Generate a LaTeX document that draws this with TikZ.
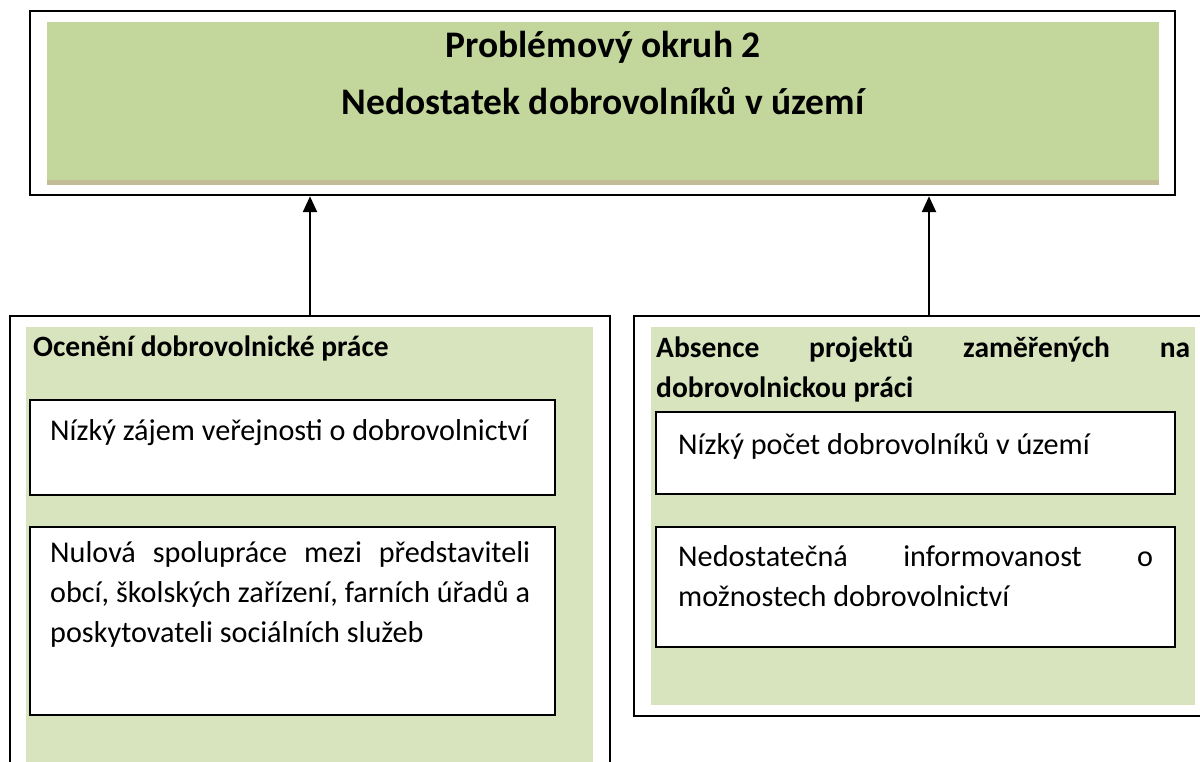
\documentclass[tikz,border=0pt]{standalone}
\usepackage{fontspec}
\setmainfont{Carlito}
\usetikzlibrary{arrows.meta}
\definecolor{titlegreen}{HTML}{C3D69B}
\definecolor{titletan}{HTML}{C4BC96}
\definecolor{panelgreen}{HTML}{D7E4BD}
\tikzset{>={Triangle[width=14pt,length=16pt]}}
\hyphenpenalty=10000

\begin{document}
\begin{tikzpicture}[x=1pt,y=-1pt,
    frame/.style={draw, line width=2pt, inner sep=0pt},
    itembox/.style={draw, fill=white, line width=2pt, inner sep=0pt},
    bodytext/.style={anchor=base west, inner sep=0pt, align=justify,
      font=\fontsize{30.2}{40}\selectfont},
    headtext/.style={bodytext, font=\bfseries\fontsize{29.5}{40}\selectfont},
    titletext/.style={anchor=base, inner sep=0pt, font=\bfseries\fontsize{37.5}{45}\selectfont}]
    \useasboundingbox (0,0) rectangle (1200,762);

    % Top box
    \node[frame, line width=2.5pt, minimum width=1145pt, minimum height=184pt] (topframe) at (602.5,103) {};
    \fill[titlegreen] (47,22) rectangle (1159,180);
    \fill[titletan] (47,180) rectangle (1159,185);
    \node[titletext] (title1) at (603,58) {Problémový okruh 2};
    \node[titletext] (title2) at (603,115) {Nedostatek dobrovolníků v území};

    % Left panel
    \node[frame, minimum width=600pt, minimum height=484pt] (leftframe) at (310,558) {};
    \fill[panelgreen] (26,327) rectangle (593,780);
    \node[headtext] (lefthead) at (33,356) {Ocenění dobrovolnické práce};
    \node[itembox, minimum width=525pt, minimum height=95pt] (leftbox1) at (292.5,447.5) {};
    \node[bodytext] (lefttext1) at (50,440) {Nízký zájem veřejnosti o dobrovolnictví};
    \node[itembox, minimum width=525pt, minimum height=188pt] (leftbox2) at (292.5,621) {};
    \node[bodytext, text width=480pt] (lefttext2) at (50,562)
      {Nulová spolupráce mezi představiteli\linebreak obcí, školských zařízení, farních úřadů a\linebreak poskytovateli sociálních služeb};

    % Right panel
    \node[frame, minimum width=590pt, minimum height=400pt] (rightframe) at (929,516) {};
    \fill[panelgreen] (651,327) rectangle (1195,705);
    \node[headtext, text width=534pt] (righthead) at (656,357)
      {Absence projektů zaměřených na\linebreak dobrovolnickou práci};
    \node[itembox, minimum width=519pt, minimum height=82pt] (rightbox1) at (915.5,453) {};
    \node[bodytext] (righttext1) at (678,454) {Nízký počet dobrovolníků v území};
    \node[itembox, minimum width=519pt, minimum height=120pt] (rightbox2) at (915.5,587) {};
    \node[bodytext, text width=475pt] (righttext2) at (678,566)
      {Nedostatečná informovanost o\linebreak možnostech dobrovolnictví};

    % Arrows
    \draw[->, line width=2.5pt] (leftframe.north) -- (leftframe.north |- topframe.south);
    \draw[->, line width=2.5pt] (rightframe.north) -- (rightframe.north |- topframe.south);
\end{tikzpicture}
\end{document}
